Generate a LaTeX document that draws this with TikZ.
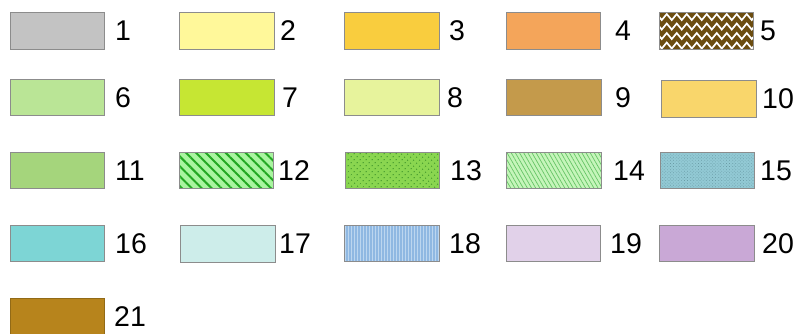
\documentclass[tikz,border=0pt]{standalone}
\usepackage{fontspec}
\setmainfont{Liberation Sans}
\usetikzlibrary{patterns.meta,decorations.pathmorphing}
\definecolor{c1}{HTML}{C3C3C3}
\definecolor{c2}{HTML}{FFF89A}
\definecolor{c3}{HTML}{F9CD3E}
\definecolor{c4}{HTML}{F4A55A}
\definecolor{c5}{HTML}{6B4C0F}
\definecolor{c6}{HTML}{BAE596}
\definecolor{c7}{HTML}{C6E633}
\definecolor{c8}{HTML}{E7F39C}
\definecolor{c9}{HTML}{C49A4B}
\definecolor{c10}{HTML}{F9D66B}
\definecolor{c11}{HTML}{A5D57C}
\definecolor{c12}{HTML}{A9F5A0}
\definecolor{c12l}{HTML}{22A822}
\definecolor{c13}{HTML}{8AD650}
\definecolor{c13d}{HTML}{4A9E30}
\definecolor{c14}{HTML}{C5F5BA}
\definecolor{c14l}{HTML}{66C466}
\definecolor{c15}{HTML}{92C9D4}
\definecolor{c15d}{HTML}{6A9CA6}
\definecolor{c16}{HTML}{7DD5D5}
\definecolor{c17}{HTML}{CDEDEA}
\definecolor{c18}{HTML}{8FB8E2}
\definecolor{c18l}{HTML}{BCD6EF}
\definecolor{c19}{HTML}{E1D1E9}
\definecolor{c20}{HTML}{C9A8D6}
\definecolor{c21}{HTML}{B7841C}
\definecolor{edge}{HTML}{8C8C8C}
\begin{document}
\begin{tikzpicture}[x=1pt,y=-1pt,
  sw/.style={draw=edge, line width=0.9pt, minimum width=94.5pt, minimum height=36.5pt, inner sep=0pt, outer sep=0pt},
  lab/.style={anchor=west, inner sep=0pt, font=\fontsize{28.5}{28.5}\selectfont}]
\useasboundingbox (0,0) rectangle (801,333);
\clip (0,0) rectangle (801,333);
% row 1
\node[sw, fill=c1] (s1) at (57.5,30.8) {};
\node[sw, fill=c2] (s2) at (226.8,30.8) {};
\node[sw, fill=c3] (s3) at (392,30.8) {};
\node[sw, fill=c4] (s4) at (553.5,30.8) {};
\node[sw, fill=c5] (s5) at (706.5,30.8) {};
\begin{scope}
\clip (s5.south west) rectangle (s5.north east);
\foreach \dy in {4.5,14,23.5,33}
  \draw[white, line width=1.7pt, decorate, decoration={zigzag, segment length=10pt, amplitude=3pt}]
    ([xshift=-5pt,yshift=-\dy pt]s5.north west) -- ([xshift=5pt,yshift=-\dy pt]s5.north east);
\end{scope}
\node[sw] at (s5) {};
% row 2
\node[sw, fill=c6] (s6) at (57.5,97.6) {};
\node[sw, fill=c7] (s7) at (226.8,97.6) {};
\node[sw, fill=c8] (s8) at (392,97.6) {};
\node[sw, fill=c9] (s9) at (554,97.6) {};
\node[sw, fill=c10] (s10) at (709,99) {};
% row 3
\node[sw, fill=c11] (s11) at (57.5,170.5) {};
\node[sw, preaction={fill=c12}, pattern={Lines[angle=-45,distance=7pt,line width=2pt]}, pattern color=c12l] (s12) at (226.5,170.5) {};
\node[sw, preaction={fill=c13}, pattern={Dots[angle=45,distance=4pt,radius=0.8pt]}, pattern color=c13d] (s13) at (392.5,170.5) {};
\node[sw, preaction={fill=c14}, pattern={Lines[angle=-60,distance=3.6pt,line width=0.7pt]}, pattern color=c14l] (s14) at (554,170.5) {};
\node[sw, preaction={fill=c15}, pattern={Dots[angle=45,distance=2.2pt,radius=0.5pt]}, pattern color=c15d] (s15) at (707.5,170.5) {};
% row 4
\node[sw, fill=c16] (s16) at (57.5,243.5) {};
\node[sw, fill=c17] (s17) at (228,244) {};
\node[sw, preaction={fill=c18}, pattern={Lines[angle=90,distance=3pt,line width=0.8pt]}, pattern color=c18l] (s18) at (392,243.5) {};
\node[sw, fill=c19] (s19) at (553.5,243.5) {};
\node[sw, fill=c20] (s20) at (707,243.5) {};
% row 5
\node[sw, fill=c21, draw=c21!80!black] (s21) at (57.5,316.5) {};
% labels
\node[lab] (l1) at (115,30.8) {1};
\node[lab] (l2) at (280,30.8) {2};
\node[lab] (l3) at (449,30.8) {3};
\node[lab] (l4) at (615,30.8) {4};
\node[lab] (l5) at (760,30.8) {5};
\node[lab] (l6) at (115,97.6) {6};
\node[lab] (l7) at (282,97.6) {7};
\node[lab] (l8) at (447,97.6) {8};
\node[lab] (l9) at (615,97.6) {9};
\node[lab] (l10) at (762,99) {10};
\node[lab] (l11) at (115,170.5) {11};
\node[lab] (l12) at (278,170.5) {12};
\node[lab] (l13) at (450,170.5) {13};
\node[lab] (l14) at (613,170.5) {14};
\node[lab] (l15) at (760,170.5) {15};
\node[lab] (l16) at (115,243.5) {16};
\node[lab] (l17) at (279,244) {17};
\node[lab] (l18) at (449,243.5) {18};
\node[lab] (l19) at (610,243.5) {19};
\node[lab] (l20) at (762,243.5) {20};
\node[lab] (l21) at (114,316.5) {21};
\end{tikzpicture}
\end{document}
